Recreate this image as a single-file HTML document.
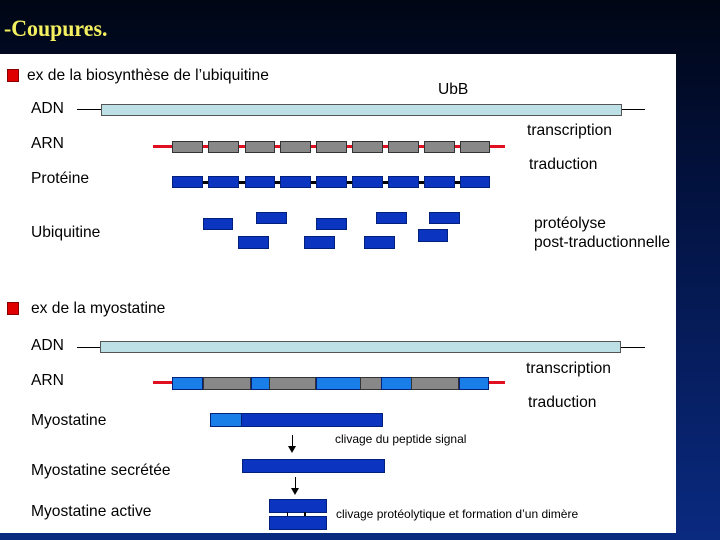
<!DOCTYPE html>
<html><head><style>
body{margin:0;width:720px;height:540px;overflow:hidden;background:linear-gradient(180deg,#000614 0%,#02103a 30%,#0a2a80 100%);position:relative;font-family:"Liberation Sans",sans-serif}
div{position:absolute;box-sizing:border-box}
.t{font-size:15.6px;color:#000;white-space:nowrap}
.s{font-size:12px;color:#000;white-space:nowrap}
.g{background:#888;border:1px solid #333}
.b{background:#0b35c0;border:1px solid #00207a}
.lb{background:#1a7ee8;border:1px solid #00207a}
.r{background:#e01020}
.k{background:#000}
</style></head><body>
<div style="left:4px;top:16px;font-family:'Liberation Serif',serif;font-size:23px;font-weight:bold;color:#f4f060;transform:scaleX(0.95);transform-origin:left">-Coupures.</div>
<div style="left:0;top:54px;width:676px;height:479px;background:#fff"></div>

<div style="left:7px;top:69px;width:12px;height:13px;background:#e00000;border:1px solid #800"></div>
<div class="t" style="left:27px;top:67px">ex de la biosynthèse de l’ubiquitine</div>
<div class="t" style="left:438px;top:81px">UbB</div>
<div class="t" style="left:31px;top:100px">ADN</div>
<div class="k" style="left:77px;top:109px;width:568px;height:1px"></div>
<div style="left:101px;top:104px;width:521px;height:12px;background:#bde0e6;border:1px solid #555"></div>
<div class="t" style="left:31px;top:135px">ARN</div>
<div class="t" style="left:527px;top:122px">transcription</div>
<div class="r" style="left:153px;top:145px;width:352px;height:3px"></div>
<div class="g" style="left:172px;top:141px;width:31px;height:12px"></div>
<div class="g" style="left:208px;top:141px;width:31px;height:12px"></div>
<div class="g" style="left:245px;top:141px;width:30px;height:12px"></div>
<div class="g" style="left:280px;top:141px;width:31px;height:12px"></div>
<div class="g" style="left:316px;top:141px;width:31px;height:12px"></div>
<div class="g" style="left:352px;top:141px;width:31px;height:12px"></div>
<div class="g" style="left:388px;top:141px;width:31px;height:12px"></div>
<div class="g" style="left:424px;top:141px;width:31px;height:12px"></div>
<div class="g" style="left:460px;top:141px;width:30px;height:12px"></div>
<div class="t" style="left:31px;top:170px">Protéine</div>
<div class="t" style="left:529px;top:156px">traduction</div>
<div class="k" style="left:172px;top:181px;width:318px;height:3px"></div>
<div class="b" style="left:172px;top:176px;width:31px;height:12px"></div>
<div class="b" style="left:208px;top:176px;width:31px;height:12px"></div>
<div class="b" style="left:245px;top:176px;width:30px;height:12px"></div>
<div class="b" style="left:280px;top:176px;width:31px;height:12px"></div>
<div class="b" style="left:316px;top:176px;width:31px;height:12px"></div>
<div class="b" style="left:352px;top:176px;width:31px;height:12px"></div>
<div class="b" style="left:388px;top:176px;width:31px;height:12px"></div>
<div class="b" style="left:424px;top:176px;width:31px;height:12px"></div>
<div class="b" style="left:460px;top:176px;width:30px;height:12px"></div>
<div class="t" style="left:31px;top:224px">Ubiquitine</div>
<div class="b" style="left:203px;top:218px;width:30px;height:12px"></div>
<div class="b" style="left:256px;top:212px;width:31px;height:12px"></div>
<div class="b" style="left:316px;top:218px;width:31px;height:12px"></div>
<div class="b" style="left:376px;top:212px;width:31px;height:12px"></div>
<div class="b" style="left:429px;top:212px;width:31px;height:12px"></div>
<div class="b" style="left:238px;top:236px;width:31px;height:13px"></div>
<div class="b" style="left:304px;top:236px;width:31px;height:13px"></div>
<div class="b" style="left:364px;top:236px;width:31px;height:13px"></div>
<div class="b" style="left:418px;top:229px;width:30px;height:13px"></div>
<div class="t" style="left:534px;top:215px">protéolyse</div>
<div class="t" style="left:534px;top:234px">post-traductionnelle</div>

<div style="left:7px;top:302px;width:12px;height:13px;background:#e00000;border:1px solid #800"></div>
<div class="t" style="left:31px;top:300px">ex de la myostatine</div>
<div class="t" style="left:31px;top:337px">ADN</div>
<div class="k" style="left:77px;top:347px;width:568px;height:1px"></div>
<div style="left:100px;top:341px;width:521px;height:12px;background:#bde0e6;border:1px solid #555"></div>
<div class="t" style="left:31px;top:372px">ARN</div>
<div class="t" style="left:526px;top:360px">transcription</div>
<div class="r" style="left:153px;top:381px;width:352px;height:3px"></div>
<div class="lb" style="left:172px;top:377px;width:31px;height:13px"></div>
<div class="g" style="left:203px;top:377px;width:48px;height:13px"></div>
<div class="lb" style="left:251px;top:377px;width:19px;height:13px"></div>
<div class="g" style="left:269px;top:377px;width:47px;height:13px"></div>
<div class="lb" style="left:316px;top:377px;width:45px;height:13px"></div>
<div class="g" style="left:360px;top:377px;width:22px;height:13px"></div>
<div class="lb" style="left:381px;top:377px;width:31px;height:13px"></div>
<div class="g" style="left:411px;top:377px;width:48px;height:13px"></div>
<div class="lb" style="left:459px;top:377px;width:30px;height:13px"></div>
<div class="t" style="left:528px;top:394px">traduction</div>
<div class="t" style="left:31px;top:412px">Myostatine</div>
<div class="lb" style="left:210px;top:413px;width:33px;height:14px"></div>
<div class="b" style="left:241px;top:413px;width:142px;height:14px"></div>
<div class="k" style="left:292px;top:435px;width:1px;height:12px"></div>
<div style="left:288px;top:446px;width:0;height:0;border-left:4px solid transparent;border-right:4px solid transparent;border-top:7px solid #000"></div>
<div class="s" style="left:335px;top:432px">clivage du peptide signal</div>
<div class="t" style="left:31px;top:462px">Myostatine secrétée</div>
<div class="b" style="left:242px;top:459px;width:143px;height:14px"></div>
<div class="k" style="left:295px;top:477px;width:1px;height:12px"></div>
<div style="left:291px;top:488px;width:0;height:0;border-left:4px solid transparent;border-right:4px solid transparent;border-top:7px solid #000"></div>
<div class="t" style="left:31px;top:503px">Myostatine active</div>
<div class="b" style="left:269px;top:499px;width:58px;height:14px"></div>
<div class="k" style="left:287px;top:512px;width:1px;height:5px"></div>
<div class="k" style="left:304px;top:512px;width:2px;height:5px"></div>
<div class="b" style="left:269px;top:516px;width:58px;height:14px"></div>
<div class="s" style="left:336px;top:507px">clivage protéolytique et formation d’un dimère</div>
</body></html>
